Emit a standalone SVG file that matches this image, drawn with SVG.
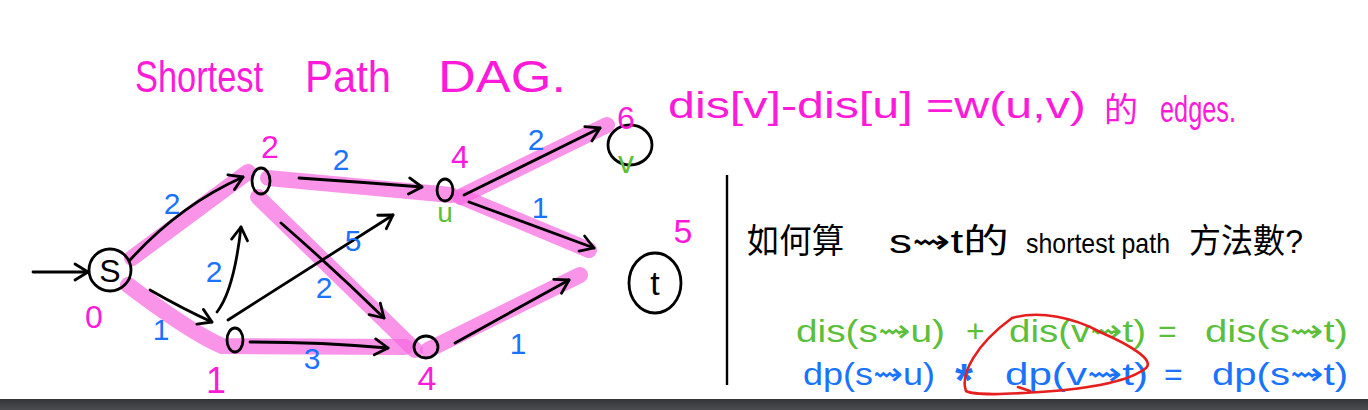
<svg xmlns="http://www.w3.org/2000/svg" width="1368" height="410" viewBox="0 0 1368 410">
<defs>
<style>
.hl{fill:none;stroke:#f76be0;stroke-width:16;stroke-linecap:round;opacity:0.72}
.ed{fill:none;stroke:#000;stroke-width:2.8;stroke-linecap:round;marker-end:url(#ah)}
.nd{fill:none;stroke:#000;stroke-width:2.8}
.t{font-family:"Liberation Sans","DejaVu Sans","Noto Sans CJK TC",sans-serif}
.mg{fill:#ff1ad9}
.bl{fill:#1a73ff}
.gr{fill:#5cbf3c}
.bk{fill:#000}
</style>
<marker id="ah" markerUnits="userSpaceOnUse" markerWidth="20" markerHeight="20" viewBox="-16 -10 20 20" refX="0" refY="0" orient="auto">
<path d="M -13 -8 L 0 0 L -13 8" fill="none" stroke="#000" stroke-width="2.8" stroke-linecap="round" stroke-linejoin="round"/>
</marker>
<linearGradient id="bar" x1="0" y1="0" x2="0" y2="1">
<stop offset="0" stop-color="#323436"/>
<stop offset="1" stop-color="#4a4c4f"/>
</linearGradient>
</defs>
<rect width="1368" height="410" fill="#fff"/>

<g id="title" class="t mg" font-size="44">
<text x="135" y="92" textLength="128" lengthAdjust="spacingAndGlyphs">Shortest</text>
<text x="305" y="92" textLength="86" lengthAdjust="spacingAndGlyphs">Path</text>
<text x="438" y="92" textLength="128" lengthAdjust="spacingAndGlyphs">DAG.</text>
</g>

<g id="rule" class="t mg" font-size="36">
<text x="668" y="118" textLength="418" lengthAdjust="spacingAndGlyphs">dis[v]-dis[u] =w(u,v)</text>
<text x="1104" y="122" font-size="34">的</text>
<text x="1160" y="122" textLength="76" lengthAdjust="spacingAndGlyphs">edges.</text>
</g>

<g id="connectors">
<g id="highlights">
<path class="hl" d="M 132 258 L 248 172"/>
<path class="hl" d="M 128 285 Q 190 332 222 346 L 405 347"/>
<path class="hl" d="M 258 197 L 415 350"/>
<path class="hl" d="M 268 178 L 451 195"/>
<path class="hl" d="M 460 197 L 607 125"/>
<path class="hl" d="M 462 197 L 589 250"/>
<path class="hl" d="M 428 350 L 580 275"/>
</g>
<path class="ed" d="M 33 272 L 88 272"/>
<path class="ed" d="M 130 260 Q 180 205 243 177"/>
<path class="ed" d="M 150 290 Q 185 310 212 322"/>
<path class="ed" d="M 217 312 Q 234 290 241 227"/>
<path class="ed" d="M 250 342 Q 320 342 388 348"/>
<path class="ed" d="M 228 320 L 393 215"/>
<path class="ed" d="M 281 223 Q 335 270 384 318"/>
<path class="ed" d="M 299 178 Q 360 182 422 187"/>
<path class="ed" d="M 464 195 L 600 128"/>
<path class="ed" d="M 469 202 L 594 248"/>
<path class="ed" d="M 455 343 L 569 280"/>
<g id="weights" class="t bl" font-size="30" text-anchor="middle">
<text x="172" y="214">2</text>
<text x="161" y="340">1</text>
<text x="214" y="282">2</text>
<text x="341" y="170">2</text>
<text x="353" y="251">5</text>
<text x="324" y="298">2</text>
<text x="312" y="369">3</text>
<text x="536" y="150">2</text>
<text x="540" y="218">1</text>
<text x="518" y="354">1</text>
</g>
</g>

<g id="node-s">
<circle class="nd" cx="110" cy="270" r="21"/>
<text class="t bk" x="110" y="282" font-size="32" text-anchor="middle">S</text>
<text class="t mg" x="94" y="328" font-size="32" text-anchor="middle">0</text>
</g>
<g id="node-a">
<ellipse class="nd" cx="261" cy="181" rx="9" ry="13"/>
<text class="t mg" x="270" y="158" font-size="32" text-anchor="middle">2</text>
</g>
<g id="node-b">
<ellipse class="nd" cx="235" cy="340" rx="8" ry="12"/>
<text class="t mg" x="216" y="393" font-size="36" text-anchor="middle">1</text>
</g>
<g id="node-u">
<ellipse class="nd" cx="445" cy="190" rx="8" ry="11"/>
<text class="t mg" x="460" y="168" font-size="32" text-anchor="middle">4</text>
<text class="t gr" x="445" y="222" font-size="28" text-anchor="middle">u</text>
</g>
<g id="node-d">
<ellipse class="nd" cx="426" cy="347" rx="12" ry="11"/>
<text class="t mg" x="427" y="390" font-size="34" text-anchor="middle">4</text>
</g>
<g id="node-v">
<ellipse class="nd" cx="630" cy="145" rx="22" ry="20"/>
<text class="t mg" x="626" y="129" font-size="32" text-anchor="middle">6</text>
<text class="t gr" x="626" y="173" font-size="32" text-anchor="middle">v</text>
</g>
<g id="node-t">
<ellipse class="nd" cx="655" cy="283" rx="26" ry="30"/>
<text class="t bk" x="655" y="295" font-size="34" text-anchor="middle">t</text>
<text class="t mg" x="683" y="243" font-size="34" text-anchor="middle">5</text>
</g>

<line x1="727" y1="175" x2="727" y2="385" stroke="#000" stroke-width="2.4"/>

<g id="question" class="t bk" font-size="34">
<text x="747" y="253" textLength="97" lengthAdjust="spacingAndGlyphs">如何算</text>
<text x="889" y="253" textLength="120" lengthAdjust="spacingAndGlyphs">s⇝t的</text>
<text x="1026" y="253" textLength="144" lengthAdjust="spacingAndGlyphs" font-size="28">shortest path</text>
<text x="1189" y="253" textLength="114" lengthAdjust="spacingAndGlyphs">方法數?</text>
</g>

<g id="eq-dis" class="t gr" font-size="32">
<text x="796" y="342" textLength="149" lengthAdjust="spacingAndGlyphs">dis(s⇝u)</text>
<text x="966" y="342">+</text>
<text x="1009" y="342" textLength="137" lengthAdjust="spacingAndGlyphs">dis(v⇝t)</text>
<text x="1158" y="342">=</text>
<text x="1205" y="342" textLength="143" lengthAdjust="spacingAndGlyphs">dis(s⇝t)</text>
</g>
<g id="eq-dp" class="t bl" font-size="32">
<text x="803" y="385" textLength="132" lengthAdjust="spacingAndGlyphs">dp(s⇝u)</text>
<text x="955" y="396" font-size="46" font-weight="bold">*</text>
<text x="1005" y="385" textLength="143" lengthAdjust="spacingAndGlyphs">dp(v⇝t)</text>
<text x="1164" y="385">=</text>
<text x="1212" y="385" textLength="136" lengthAdjust="spacingAndGlyphs">dp(s⇝t)</text>
</g>
<path id="circle-mark" d="M 1012 318 C 1040 310 1075 318 1100 332 C 1130 345 1155 360 1146 368 C 1125 385 1070 390 1040 392 C 1010 394 975 396 966 391 C 960 375 975 345 1012 318 Z M 1018 387 L 1030 391" fill="none" stroke="#e61e1e" stroke-width="2.6" stroke-linecap="round"/>

<rect x="0" y="399" width="1368" height="11" fill="url(#bar)"/>
</svg>
